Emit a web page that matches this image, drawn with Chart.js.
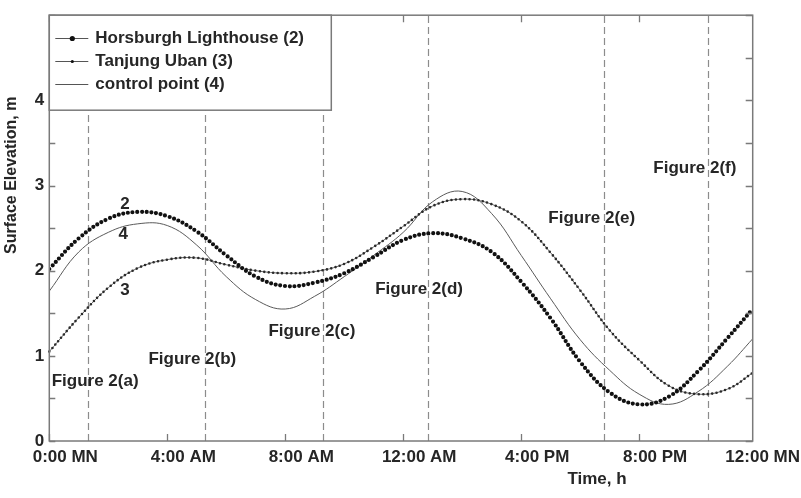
<!DOCTYPE html>
<html>
<head>
<meta charset="utf-8">
<script src="https://cdn.jsdelivr.net/npm/chart.js@4/dist/chart.umd.min.js"></script>
<style>
  html, body { margin: 0; padding: 0; background: #ffffff; }
  #wrap { position: relative; width: 801px; height: 498px; }
</style>
</head>
<body>
<div id="wrap"><canvas id="c" width="801" height="498"></canvas></div>
<script>
// ---- data ----
const hours = [0,1,2,3,4,5,6,7,8,9,10,11,12,13,14,15,16,17,18,19,20,21,22,23,23.85];
const horsburgh = [2.02,2.38,2.61,2.69,2.64,2.46,2.18,1.93,1.82,1.86,1.97,2.16,2.36,2.44,2.38,2.22,1.87,1.44,0.93,0.57,0.43,0.52,0.82,1.21,1.55];
const tanjungUban = [1.05,1.45,1.80,2.03,2.13,2.15,2.07,2.00,1.97,1.99,2.08,2.28,2.52,2.76,2.84,2.78,2.58,2.21,1.77,1.30,0.95,0.65,0.55,0.61,0.80];
const controlPoint = [1.76,2.22,2.45,2.55,2.53,2.30,1.93,1.66,1.55,1.70,1.93,2.18,2.45,2.81,2.93,2.67,2.18,1.67,1.19,0.83,0.55,0.43,0.58,0.88,1.20];
const seriesNames = ['Horsburgh Lighthouse (2)', 'Tanjung Uban (3)', 'control point (4)'];
const xTickHours = [0,4,8,12,16,20,24];
const xTickLabels = ['0:00 MN','4:00 AM','8:00 AM','12:00 AM','4:00 PM','8:00 PM','12:00 MN'];
const snapshotHours = [1.31, 5.28, 9.29, 12.84, 18.81, 22.32];
const figureLabels = ['Figure 2(a)','Figure 2(b)','Figure 2(c)','Figure 2(d)','Figure 2(e)','Figure 2(f)'];
const figureLabelHours = [0.08, 3.36, 7.43, 11.05, 16.92, 20.48];
const figureLabelValues = [0.70, 0.96, 1.29, 1.78, 2.61, 3.20];
const curveTags = ['2','4','3'];
const curveTagHours = [2.57, 2.51, 2.57];
const curveTagValues = [2.78, 2.43, 1.77];

const FONT = '"Liberation Sans", Arial, Helvetica, sans-serif';
const TXT = 'bold 17px ' + FONT;
const TEXT = '#262626';
const AXIS = '#7a7a7a';

const toXY = arr => arr.map((v, i) => ({x: hours[i], y: v}));

const overlay = {
  id: 'overlay',
  beforeDatasetsDraw(chart) {
    const {ctx, chartArea: a, scales: {x}} = chart;
    ctx.save();
    ctx.strokeStyle = '#8c8c8c';
    ctx.lineWidth = 1.2;
    ctx.setLineDash([7, 4]);
    snapshotHours.forEach(h => {
      const px = Math.round(x.getPixelForValue(h)) + 0.5;
      ctx.beginPath();
      ctx.moveTo(px, a.bottom);
      ctx.lineTo(px, a.top);
      ctx.stroke();
    });
    ctx.restore();
  },
  afterDatasetDraw(chart, args) {
    const ds = chart.data.datasets[args.index];
    if (!ds.dots) return;
    const ctx = chart.ctx;
    ctx.save();
    ctx.beginPath();
    args.meta.dataset.path(ctx);
    ctx.setLineDash([0, ds.dots.gap]);
    ctx.lineCap = 'round';
    ctx.lineWidth = ds.dots.size;
    ctx.strokeStyle = ds.dots.color;
    ctx.stroke();
    ctx.restore();
  },
  afterDatasetsDraw(chart) {
    const {ctx, chartArea: a, scales: {x, y}} = chart;
    ctx.save();
    // frame
    ctx.strokeStyle = AXIS;
    ctx.lineWidth = 1.5;
    ctx.strokeRect(a.left, a.top, a.right - a.left, a.bottom - a.top);
    // inward tick marks
    ctx.lineWidth = 1.3;
    ctx.beginPath();
    y.ticks.forEach(t => {
      const py = Math.round(y.getPixelForValue(t.value)) + 0.5;
      ctx.moveTo(a.left, py); ctx.lineTo(a.left + 6, py);
      ctx.moveTo(a.right, py); ctx.lineTo(a.right - 7, py);
    });
    xTickHours.forEach(h => {
      if (h > x.max) return;
      const px = Math.round(x.getPixelForValue(h)) + 0.5;
      ctx.moveTo(px, a.bottom); ctx.lineTo(px, a.bottom - 7);
      ctx.moveTo(px, a.top); ctx.lineTo(px, a.top + 7);
    });
    ctx.stroke();

    // x tick labels (shifted right of the tick, kept inside the canvas)
    ctx.fillStyle = TEXT;
    ctx.font = TXT;
    ctx.textBaseline = 'middle';
    ctx.textAlign = 'center';
    xTickLabels.forEach((lab, i) => {
      const w = ctx.measureText(lab).width;
      let cx = x.getPixelForValue(xTickHours[i]) + 16;
      cx = Math.min(cx, chart.width - 1 - w / 2);
      ctx.fillText(lab, cx, a.bottom + 16);
    });

    // axis titles
    ctx.fillText('Time, h', x.getPixelForValue(18.57), a.bottom + 38);
    ctx.save();
    ctx.translate(12, y.getPixelForValue(3.12));
    ctx.rotate(-Math.PI / 2);
    ctx.font = 'bold 16px ' + FONT;
    ctx.fillText('Surface Elevation, m', 0, 0);
    ctx.restore();

    // figure annotations
    ctx.font = TXT;
    ctx.textAlign = 'left';
    figureLabels.forEach((lab, i) => {
      ctx.fillText(lab, x.getPixelForValue(figureLabelHours[i]), y.getPixelForValue(figureLabelValues[i]));
    });
    ctx.textAlign = 'center';
    curveTags.forEach((lab, i) => {
      ctx.fillText(lab, x.getPixelForValue(curveTagHours[i]), y.getPixelForValue(curveTagValues[i]));
    });

    // legend box
    const L = {x: a.left, y: a.top, w: 282, h: 95};
    ctx.fillStyle = '#ffffff';
    ctx.fillRect(L.x, L.y, L.w, L.h);
    ctx.strokeStyle = AXIS;
    ctx.lineWidth = 1.5;
    ctx.strokeRect(L.x, L.y, L.w, L.h);
    const rowY = [22.6, 45.3, 68.3];
    chart.data.datasets.forEach((ds, i) => {
      const ry = Math.round(L.y + rowY[i]) + 0.5;
      ctx.strokeStyle = '#555';
      ctx.lineWidth = 1;
      ctx.beginPath();
      ctx.moveTo(L.x + 6, ry); ctx.lineTo(L.x + 39, ry);
      ctx.stroke();
      if (ds.legendDot) {
        ctx.fillStyle = '#111';
        ctx.beginPath();
        ctx.arc(L.x + 23, ry, ds.legendDot, 0, Math.PI * 2);
        ctx.fill();
      }
      ctx.fillStyle = TEXT;
      ctx.font = TXT;
      ctx.textAlign = 'left';
      ctx.textBaseline = 'middle';
      ctx.fillText(ds.label, L.x + 46, ry);
    });
    ctx.restore();
  }
};

new Chart(document.getElementById('c'), {
  type: 'line',
  data: {
    datasets: [
      {
        label: seriesNames[0],
        data: toXY(horsburgh),
        borderColor: '#111111',
        borderWidth: 4.2,
        borderDash: [0, 4.7],
        borderCapStyle: 'round',
        pointRadius: 0,
        tension: 0.4,
        legendDot: 2.6
      },
      {
        label: seriesNames[1],
        data: toXY(tanjungUban),
        borderColor: '#6a6a6a',
        borderWidth: 1,
        pointRadius: 0,
        tension: 0.4,
        dots: {size: 2.6, gap: 4.5, color: '#2a2a2a'},
        legendDot: 1.6
      },
      {
        label: seriesNames[2],
        data: toXY(controlPoint),
        borderColor: '#5a5a5a',
        borderWidth: 1,
        pointRadius: 0,
        tension: 0.4
      }
    ]
  },
  options: {
    responsive: false,
    animation: false,
    devicePixelRatio: 1,
    layout: { padding: { top: 6.7, right: 48.3, left: 0, bottom: 0 } },
    plugins: { legend: { display: false }, tooltip: { enabled: false } },
    scales: {
      x: {
        type: 'linear',
        min: 0,
        max: 23.85,
        grid: { display: false, drawTicks: false },
        border: { display: false },
        ticks: { display: false },
        afterFit: s => { s.height = 57; }
      },
      y: {
        type: 'linear',
        min: 0,
        max: 5,
        grid: { display: false, drawTicks: false },
        border: { display: false },
        ticks: {
          stepSize: 0.5,
          autoSkip: false,
          padding: 5,
          color: TEXT,
          font: { family: FONT, size: 17, weight: 'bold' },
          callback: v => (Number.isInteger(v) && v < 5) ? String(v) : ''
        },
        afterFit: s => { s.width = 49.3; }
      }
    }
  },
  plugins: [overlay]
});
</script>
</body>
</html>
